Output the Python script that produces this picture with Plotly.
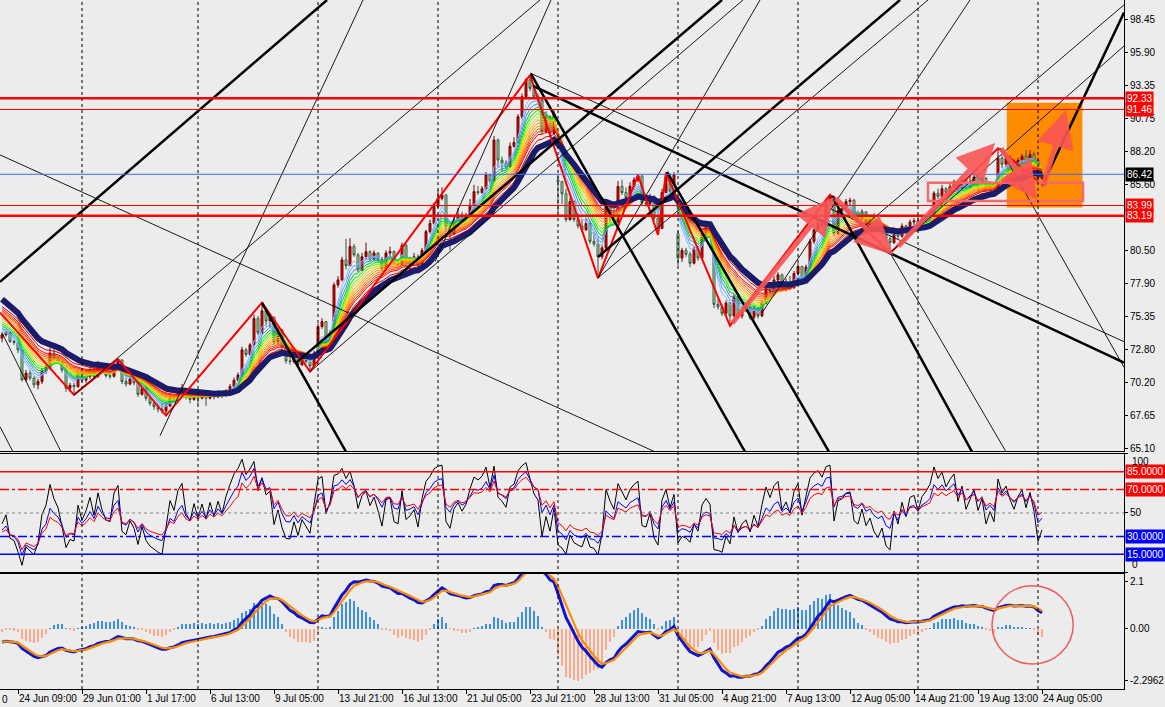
import plotly.graph_objects as go

# ---------------- price data (H4 bars) ----------------
first_open = 73.67
gap_opens = {139: 85.98, 169: 81.80}

closes = [
    73.93, 74.10, 73.42, 73.33, 72.76, 70.43, 70.95, 70.56, 70.04, 70.30,
    71.08, 71.40, 72.50, 72.10, 71.85, 71.20, 69.78, 70.00, 69.90, 70.95,
    70.40, 70.70, 71.20, 70.70, 71.60, 71.10, 70.75, 70.70, 71.60, 71.98,
    70.30, 70.10, 70.50, 70.20, 69.30, 69.75, 69.00, 68.60, 68.35, 68.15,
    68.00, 68.40, 69.00, 68.80, 69.40, 69.70, 69.10, 68.90, 69.30, 69.00,
    69.30, 69.00, 69.35, 69.10, 69.40, 69.20, 69.55, 69.90, 70.40, 70.80,
    72.76, 72.40, 73.15, 75.20, 74.10, 75.80, 75.00, 75.30, 73.40, 74.30,
    73.00, 71.90, 71.85, 72.50, 71.60, 72.20, 71.85, 71.50, 72.50, 74.57,
    74.96, 73.28, 74.06, 77.81, 78.20, 79.76, 79.30, 80.80, 80.15, 78.98,
    80.00, 80.40, 79.80, 80.30, 79.80, 79.10, 80.30, 80.40, 79.50, 79.40,
    80.90, 79.60, 79.76, 80.00, 79.30, 80.50, 81.96, 82.60, 83.90, 84.55,
    84.80, 82.35, 81.80, 82.87, 83.26, 82.90, 83.20, 84.03, 85.07, 85.00,
    85.30, 86.37, 85.90, 89.09, 87.53, 87.30, 87.00, 88.60, 88.90, 90.90,
    92.46, 93.76, 93.10, 92.46, 92.20, 89.74, 90.90, 89.60, 91.16, 85.85,
    84.90, 82.90, 84.30, 82.90, 82.40, 82.10, 82.60, 81.20, 81.00, 80.00,
    80.70, 83.90, 83.20, 82.70, 85.47, 85.00, 84.60, 85.50, 85.98, 86.30,
    84.20, 84.10, 84.70, 83.00, 82.20, 85.00, 86.24, 85.10, 86.37, 79.90,
    80.50, 80.20, 79.50, 80.60, 79.90, 81.70, 82.30, 82.00, 76.30, 76.10,
    75.60, 76.40, 75.40, 76.90, 75.40, 75.90, 76.10, 75.30, 76.00, 75.40,
    76.40, 77.70, 77.30, 78.20, 78.60, 77.60, 78.00, 77.60, 78.70, 79.25,
    78.10, 79.20, 81.20, 82.10, 82.60, 82.40, 84.30, 84.70, 81.80, 83.60,
    83.80, 84.30, 84.40, 83.10, 82.90, 83.50, 82.75, 83.00, 82.40, 82.10,
    82.30, 81.40, 81.10, 82.10, 81.60, 82.40, 81.90, 82.70, 82.80, 82.40,
    82.90, 83.10, 83.40, 84.95, 84.70, 85.30, 85.00, 85.45, 85.85, 85.30,
    86.00, 85.40, 85.80, 86.20, 85.70, 86.10, 85.35, 85.70, 85.40, 87.67,
    87.20, 87.70, 87.30, 87.00, 87.50, 87.80, 87.40, 87.95, 87.50, 86.10,
    86.42,
]

highs = [
    74.10, 74.25, 74.10, 73.55, 73.35, 72.80, 71.20, 71.20, 70.70, 70.50,
    71.30, 71.60, 72.90, 73.10, 72.30, 71.90, 71.50, 70.20, 70.20, 71.10,
    71.00, 70.90, 71.40, 71.30, 71.90, 71.70, 71.20, 71.00, 71.80, 72.03,
    72.00, 70.60, 70.70, 70.60, 70.30, 69.90, 69.80, 69.10, 68.70, 68.50,
    68.60, 68.60, 69.20, 69.20, 69.60, 70.10, 69.80, 69.30, 69.50, 69.40,
    69.50, 69.40, 69.50, 69.50, 69.60, 69.50, 69.70, 70.10, 70.60, 71.00,
    73.00, 72.90, 73.30, 75.50, 75.40, 76.44, 75.90, 75.60, 75.30, 74.50,
    74.40, 73.10, 73.00, 72.70, 72.50, 72.40, 72.50, 71.90, 72.70, 74.80,
    75.22, 75.00, 74.30, 78.00, 78.50, 80.00, 81.40, 81.45, 81.00, 80.30,
    80.30, 81.10, 80.50, 80.50, 80.30, 80.00, 80.50, 80.80, 80.50, 79.80,
    81.10, 81.00, 80.00, 80.30, 80.20, 80.70, 82.10, 82.90, 84.20, 85.20,
    85.40, 84.90, 82.50, 83.10, 83.80, 83.50, 83.40, 84.50, 85.60, 85.50,
    85.50, 86.60, 86.40, 89.40, 89.20, 87.80, 87.50, 88.90, 89.30, 91.10,
    92.70, 93.90, 94.14, 93.20, 92.70, 92.30, 91.30, 91.00, 91.40, 86.40,
    85.90, 85.30, 84.60, 84.40, 83.40, 82.90, 83.00, 82.80, 81.90, 81.50,
    80.90, 84.10, 84.00, 83.70, 85.90, 86.00, 85.40, 85.80, 86.20, 86.37,
    86.30, 84.80, 84.90, 84.80, 83.50, 85.30, 86.55, 86.50, 86.60, 82.00,
    80.70, 80.70, 80.40, 80.80, 80.70, 81.90, 82.50, 82.40, 82.20, 76.70,
    76.30, 76.60, 76.50, 77.10, 77.00, 76.10, 76.30, 76.20, 76.20, 76.10,
    76.60, 77.90, 77.90, 78.50, 78.80, 78.70, 78.30, 78.50, 78.90, 79.50,
    79.30, 79.40, 81.40, 82.30, 82.80, 82.90, 84.50, 84.82, 84.70, 83.80,
    84.00, 84.50, 84.60, 84.50, 83.60, 83.70, 83.50, 83.30, 83.40, 82.70,
    82.50, 82.30, 81.60, 82.30, 82.20, 82.60, 82.50, 82.90, 83.00, 83.10,
    83.10, 83.30, 83.60, 85.10, 85.30, 85.60, 85.40, 85.80, 86.00, 85.90,
    86.20, 86.10, 86.40, 86.76, 86.30, 86.30, 86.20, 85.90, 85.80, 88.44,
    87.90, 87.90, 87.90, 87.60, 87.70, 88.00, 88.31, 88.30, 88.20, 87.60,
    86.60,
]

lows = [
    73.35, 73.80, 73.30, 73.15, 72.50, 70.30, 70.30, 70.40, 69.80, 69.70,
    70.10, 70.90, 71.20, 72.00, 71.70, 71.00, 69.50, 69.50, 69.26, 69.80,
    70.20, 70.20, 70.50, 70.50, 70.60, 71.00, 70.60, 70.50, 70.60, 71.40,
    70.10, 69.90, 70.00, 70.00, 69.10, 69.20, 68.80, 68.40, 68.10, 67.90,
    67.80, 67.65, 68.30, 68.70, 68.80, 69.20, 68.90, 68.60, 68.80, 68.50,
    68.90, 68.40, 68.90, 68.90, 69.00, 69.00, 69.10, 69.40, 69.80, 70.30,
    70.70, 72.20, 72.30, 73.00, 73.90, 74.00, 74.60, 74.50, 73.20, 73.20,
    72.80, 71.70, 71.60, 71.70, 71.40, 71.50, 71.70, 71.07, 71.40, 72.40,
    74.40, 73.10, 73.20, 73.90, 77.60, 78.10, 79.00, 79.30, 80.00, 78.80,
    78.90, 79.80, 79.60, 79.70, 79.60, 78.90, 79.00, 80.00, 79.40, 79.20,
    79.40, 79.40, 78.85, 79.60, 79.10, 79.20, 80.40, 81.80, 82.50, 83.80,
    84.40, 81.90, 80.50, 81.70, 82.80, 82.70, 82.60, 82.90, 83.90, 84.80,
    84.90, 85.20, 85.70, 85.80, 87.00, 86.60, 86.80, 87.00, 88.50, 88.80,
    90.70, 92.40, 92.90, 92.30, 92.00, 89.50, 89.60, 89.40, 89.50, 83.40,
    84.10, 82.70, 82.80, 82.70, 82.20, 81.90, 82.00, 81.00, 80.80, 78.34,
    79.80, 80.50, 82.60, 82.50, 82.60, 84.80, 84.40, 84.30, 85.20, 85.80,
    84.00, 83.90, 84.00, 82.80, 81.71, 82.20, 85.00, 84.90, 85.00, 79.30,
    79.60, 80.00, 79.20, 79.40, 79.70, 79.80, 81.50, 81.80, 76.00, 75.90,
    75.40, 75.40, 74.63, 75.30, 75.20, 75.20, 75.70, 75.10, 75.10, 75.20,
    75.30, 76.30, 77.10, 77.20, 77.90, 77.40, 77.30, 77.40, 77.50, 78.60,
    77.90, 78.00, 79.00, 81.00, 82.00, 82.20, 82.30, 84.10, 81.60, 81.70,
    83.20, 83.70, 84.00, 82.90, 82.70, 82.80, 82.50, 82.40, 82.20, 81.90,
    81.80, 81.10, 80.28, 81.00, 81.40, 81.50, 81.70, 81.80, 82.30, 82.20,
    82.30, 82.60, 82.80, 83.30, 84.50, 84.60, 84.80, 84.90, 85.30, 85.10,
    85.20, 85.20, 85.30, 85.50, 85.00, 85.50, 85.10, 85.10, 85.20, 85.30,
    86.90, 87.00, 87.10, 86.80, 86.90, 87.30, 87.20, 87.20, 87.30, 85.90,
    86.00,
]

# time axis labels (bar index -> text)
label_bars = [4, 20, 36, 52, 68, 84, 100, 116, 132, 148, 164, 180, 196, 212, 228, 244, 260]
label_text = ["24 Jun 09:00", "29 Jun 01:00", "1 Jul 17:00", "6 Jul 13:00", "9 Jul 05:00",
              "13 Jul 21:00", "16 Jul 13:00", "21 Jul 05:00", "23 Jul 21:00", "28 Jul 13:00",
              "31 Jul 05:00", "4 Aug 21:00", "7 Aug 13:00", "12 Aug 05:00", "14 Aug 21:00",
              "19 Aug 13:00", "24 Aug 05:00"]
week_separators = [20, 49, 79, 109, 139, 169, 199, 229, 259]

# price axis
price_ticks = [98.45, 95.90, 93.35, 90.75, 88.20, 85.60, 80.50, 77.90, 75.35, 72.80, 70.20, 67.65, 65.10]

# horizontal levels
red_levels = [92.33, 91.46, 83.99, 83.19]
red_widths = [2.5, 1, 1, 2.5]
bid_level = 86.42

# rainbow moving averages (periods, start values at the left edge, colours)
rb_periods = [4, 5, 6, 7, 8, 9, 10, 11, 12, 13, 14, 15, 16, 18]
rb_start = [74.2, 74.4, 74.6, 74.8, 75.0, 75.2, 75.4, 75.55, 75.7, 75.85, 76.0, 76.1, 76.25, 76.4]
rb_colors = ['#7fbfff', '#59a6ff', '#3d8cff', '#00d000', '#00f000', '#66ff00', '#ffd000',
             '#ffb400', '#ff9c00', '#ff8400', '#ff5c00', '#ff3400', '#ff0000', '#dd0000']
slow_period, slow_start = 21, 76.97

# zigzag swing points
zz_bars = [-0.5, 18, 29, 41, 65, 77, 132, 149, 159, 164, 166, 182, 207, 222, 249, 259]
zz_prices = [75.66, 69.26, 72.03, 67.65, 76.44, 71.07, 94.14, 78.34, 86.37, 81.71, 86.55,
             74.63, 84.82, 80.28, 88.44, 85.90]

# trend lines: (bar0, price0, bar1, price1)
thick_lines = [
    (-0.5, 78.05, 81.25, 99.98),
    (73.5, 71.75, 180.0, 99.98),
    (149.0, 79.99, 224.5, 99.98),
    (132.75, 93.29, 280.5, 71.76),
    (132.25, 94.23, 185.75, 64.83),
    (65.0, 76.42, 86.0, 64.83),
    (166.25, 86.60, 206.75, 64.83),
    (207.5, 84.74, 242.5, 64.83),
    (260.0, 85.52, 280.5, 99.0),
]
thin_lines = [
    (-0.5, 87.93, 163.25, 64.83),
    (132.0, 94.30, 280.5, 73.40),
    (18.0, 69.26, 134.5, 99.98),
    (39.5, 66.08, 90.25, 99.98),
    (108.25, 79.61, 137.25, 99.98),
    (77.0, 71.05, 185.25, 99.98),
    (149.0, 78.36, 231.5, 99.98),
    (149.0, 78.36, 189.5, 99.98),
    (190.0, 75.64, 242.0, 99.98),
    (222.0, 80.31, 280.5, 96.40),
    (222.0, 80.31, 251.0, 64.83),
    (249.5, 88.47, 280.5, 71.40),
    (-0.5, 66.78, 2.75, 64.83),
    (0.0, 74.09, 14.75, 64.83),
    (214.5, 82.10, 280.5, 99.60),
]

# drawn arrows: (tail bar, tail price, head bar, head price)
arrows = [
    (182.25, 74.71, 208.0, 84.66),
    (208.0, 84.66, 222.75, 80.15),
    (223.75, 80.70, 248.25, 88.86),
    (249.5, 88.55, 258.75, 84.43),
    (260.25, 85.36, 266.0, 91.43),
]
orange_box = (251.2, 91.99, 270.1, 83.83)
pink_box = (231.5, 85.77, 270.25, 84.35)
circle_box = (247.5, 267.8, -1.56, 1.91)   # bar0, bar1, value0, value1 in the MACD pane

# oscillator settings
rsi_levels = [85, 70, 50, 30, 15]
rsi_periods = [4, 8, 12]
rsi_seed = [(0.12, 0.30), (0.14, 0.32), (0.15, 0.34)]
rsi_colors = ['#000000', '#0000ff', '#ff0000']
macd_seed = (74.3, 74.9, -0.55, -0.5)   # ema12, ema26, fast signal, signal9
hist_scale = 1.8

# ---------------- derived series ----------------
n = len(closes)
bars = list(range(n))
opens = [first_open] + closes[:-1]
for k, v in gap_opens.items():
    opens[k] = v
highs = [max(h, o, c) for h, o, c in zip(highs, opens, closes)]
lows = [min(l, o, c) for l, o, c in zip(lows, opens, closes)]


def ema(vals, period, start):
    a = 2.0 / (period + 1)
    out, e = [], start
    for v in vals:
        e = e + a * (v - e)
        out.append(e)
    return out


def rsi(vals, prev0, period, g0, l0):
    out, ag, al, prev = [], g0, l0, prev0
    for v in vals:
        ch = v - prev
        ag = (ag * (period - 1) + max(ch, 0)) / period
        al = (al * (period - 1) + max(-ch, 0)) / period
        out.append(100 - 100 / (1 + ag / al) if al > 0 else 100)
        prev = v
    return out


fig = go.Figure()

for p, s, col in zip(rb_periods, rb_start, rb_colors):
    fig.add_trace(go.Scatter(x=bars, y=ema(closes, p, s), mode='lines',
                             line=dict(color=col, width=1), hoverinfo='skip'))
fig.add_trace(go.Scatter(x=bars, y=ema(closes, slow_period, slow_start), mode='lines',
                         line=dict(color='#1b1b6b', width=6), hoverinfo='skip'))

fig.add_trace(go.Candlestick(
    x=bars, open=opens, high=highs, low=lows, close=closes,
    increasing=dict(fillcolor='#dc0000', line=dict(color='#7a0000', width=1)),
    decreasing=dict(fillcolor='#a8eea8', line=dict(color='#35553f', width=1)),
    whiskerwidth=0, xaxis='x', yaxis='y'))

fig.add_trace(go.Scatter(x=zz_bars, y=zz_prices, mode='lines',
                         line=dict(color='#ff0000', width=2), hoverinfo='skip'))


def seg_xy(segs):
    xs, ys = [], []
    for x0, y0, x1, y1 in segs:
        xs += [x0, x1, None]
        ys += [y0, y1, None]
    return xs, ys


tx, ty = seg_xy(thin_lines)
fig.add_trace(go.Scatter(x=tx, y=ty, mode='lines', line=dict(color='black', width=0.9),
                         hoverinfo='skip'))
tx, ty = seg_xy(thick_lines)
fig.add_trace(go.Scatter(x=tx, y=ty, mode='lines', line=dict(color='black', width=2.5),
                         hoverinfo='skip'))

# RSI panel
for per, (g0, l0), col in zip(rsi_periods, rsi_seed, rsi_colors):
    fig.add_trace(go.Scatter(x=bars, y=rsi(closes, first_open, per, g0, l0), mode='lines',
                             line=dict(color=col, width=1), xaxis='x2', yaxis='y2',
                             hoverinfo='skip'))

# MACD panel
e12 = ema(closes, 12, macd_seed[0])
e26 = ema(closes, 26, macd_seed[1])
macd = [a - b for a, b in zip(e12, e26)]
sig_fast = ema(macd, 3, macd_seed[2])
sig9 = ema(macd, 9, macd_seed[3])
hist = [(m - s) * hist_scale for m, s in zip(macd, sig9)]
fig.add_trace(go.Bar(x=bars, y=hist, width=0.5,
                     marker=dict(color=['#3f8fe6' if h >= 0 else '#ffa98a' for h in hist],
                                 line=dict(width=0)),
                     xaxis='x3', yaxis='y3', hoverinfo='skip'))
fig.add_trace(go.Scatter(x=bars, y=macd, mode='lines', line=dict(color='#0a14d2', width=3),
                         xaxis='x3', yaxis='y3', hoverinfo='skip'))
fig.add_trace(go.Scatter(x=bars, y=sig_fast, mode='lines', line=dict(color='#ff8c00', width=2.2),
                         xaxis='x3', yaxis='y3', hoverinfo='skip'))

# ---------------- shapes / annotations ----------------
shapes = []
x0b, y0b, x1b, y1b = orange_box
shapes.append(dict(type='rect', xref='x', yref='y', x0=x0b, x1=x1b, y0=y0b, y1=y1b,
                   fillcolor='#ff8c00', line=dict(width=0), layer='below'))
for lv, w in zip(red_levels, red_widths):
    shapes.append(dict(type='line', xref='x domain', yref='y', x0=0, x1=1, y0=lv, y1=lv,
                       line=dict(color='#ff0000', width=w)))
shapes.append(dict(type='line', xref='x domain', yref='y', x0=0, x1=1, y0=bid_level, y1=bid_level,
                   line=dict(color='#3c6df0', width=1)))
x0b, y0b, x1b, y1b = pink_box
shapes.append(dict(type='rect', xref='x', yref='y', x0=x0b, x1=x1b, y0=y0b, y1=y1b,
                   line=dict(color='#f26a6a', width=2.5)))
for sb in week_separators:
    shapes.append(dict(type='line', xref='x', yref='paper', x0=sb, x1=sb, y0=0, y1=1,
                       line=dict(color='black', width=1, dash='3px,3px')))
rsi_styles = [('#ff0000', 'solid', 1.5), ('#ff0000', 'dashdot', 1.5), ('#808080', 'dot', 1),
              ('#0000ff', 'dashdot', 1.5), ('#0000ff', 'solid', 1.5)]
for lv, (col, dash, w) in zip(rsi_levels, rsi_styles):
    shapes.append(dict(type='line', xref='x2 domain', yref='y2', x0=0, x1=1, y0=lv, y1=lv,
                       line=dict(color=col, width=w, dash=dash)))
cb = circle_box
shapes.append(dict(type='circle', xref='x3', yref='y3', x0=cb[0], x1=cb[1], y0=cb[2], y1=cb[3],
                   line=dict(color='#f05a5a', width=1.5)))

annotations = []
for tx0, ty0, hx, hy in arrows:
    annotations.append(dict(x=hx, y=hy, ax=tx0, ay=ty0, xref='x', yref='y', axref='x', ayref='y',
                            text='', showarrow=True, arrowhead=2, arrowsize=1.5, arrowwidth=5,
                            arrowcolor='rgba(250,85,85,0.9)', standoff=0, startstandoff=0))

txt_font = dict(family='Liberation Sans', size=10, color='black')
tag_font = dict(family='Liberation Sans', size=10, color='white')
for lv in red_levels:
    annotations.append(dict(x=1, xref='paper', xanchor='left', xshift=1, y=lv, yref='y',
                            text=f'{lv:.2f}', showarrow=False, bgcolor='#ff0000',
                            font=tag_font, borderpad=1))
annotations.append(dict(x=1, xref='paper', xanchor='left', xshift=1, y=bid_level, yref='y',
                        text=f'{bid_level:.2f}', showarrow=False, bgcolor='#000000',
                        font=tag_font, borderpad=1))
for lv, col in [(85, '#ff0000'), (70, '#ff0000'), (30, '#0000ff'), (15, '#0000ff')]:
    annotations.append(dict(x=1, xref='paper', xanchor='left', xshift=1, y=lv, yref='y2',
                            text=f'{lv:.4f}', showarrow=False, bgcolor=col,
                            font=tag_font, borderpad=1))
# RSI scale ends are written inside the pane, as in the terminal
annotations.append(dict(x=1, xref='paper', xanchor='left', xshift=6, y=100, yref='y2',
                        yanchor='top', text='100', showarrow=False, font=txt_font))
annotations.append(dict(x=1, xref='paper', xanchor='left', xshift=6, y=0, yref='y2',
                        yanchor='bottom', text='0', showarrow=False, font=txt_font))
annotations.append(dict(x=0, xref='paper', xanchor='left', y=0, yref='paper', yanchor='top',
                        yshift=-3, text='0', showarrow=False, font=txt_font))

axis_common = dict(showgrid=False, zeroline=False, showline=True, linecolor='black',
                   linewidth=1, automargin=False)

fig.update_layout(
    width=1165, height=707,
    margin=dict(l=0, r=41, t=0, b=18),
    paper_bgcolor='#ececec', plot_bgcolor='#ececec',
    font=txt_font, showlegend=False, bargap=0,
    xaxis=dict(domain=[0, 1], anchor='y', range=[-0.5, 280.5], showticklabels=False,
               rangeslider=dict(visible=False), ticks='', **axis_common),
    xaxis2=dict(domain=[0, 1], anchor='y2', matches='x', showticklabels=False, ticks='',
                mirror=True, **axis_common),
    xaxis3=dict(domain=[0, 1], anchor='y3', matches='x', tickvals=label_bars, ticktext=label_text,
                tickangle=0, ticks='outside', ticklen=4, tickcolor='black',
                ticklabelposition='outside right', mirror=True, **axis_common),
    yaxis=dict(domain=[0.3454, 1], anchor='x', side='right', range=[64.89, 99.98],
               tickvals=price_ticks, ticktext=[f'{v:.2f}' for v in price_ticks],
               ticks='outside', ticklen=3, tickcolor='black', **axis_common),
    yaxis2=dict(domain=[0.1698, 0.3411], anchor='x2', side='right', range=[0, 100],
                tickvals=[100, 50, 0], ticktext=['', '50', ''],
                ticks='outside', ticklen=3, tickcolor='black', **axis_common),
    yaxis3=dict(domain=[0, 0.1669], anchor='x3', side='right', range=[-2.67, 2.43],
                tickvals=[2.1, 0, -2.2962], ticktext=['2.1', '0.00', '-2.2962'],
                ticks='outside', ticklen=3, tickcolor='black', **axis_common),
    shapes=shapes, annotations=annotations,
)

# the page has no body margin, so the chart sits flush in the window
fig.write_html("out.html", config={'displayModeBar': False},
               post_script="document.body.style.margin='0';document.body.style.overflow='hidden';")
